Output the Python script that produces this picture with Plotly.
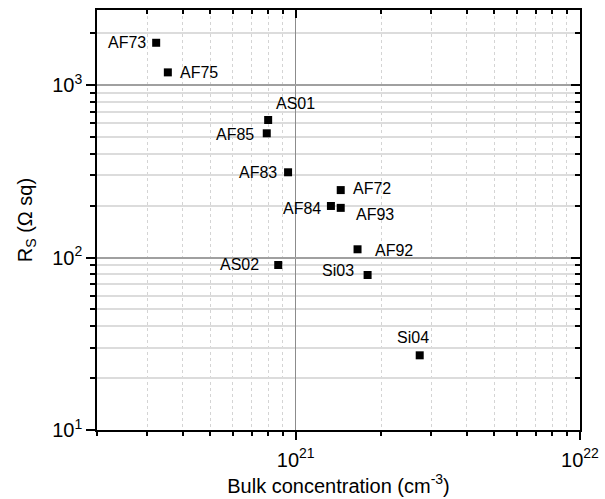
import numpy as np
import plotly.graph_objects as go

# Data
samples = ["AF73", "AF75", "AS01", "AF85", "AF83", "AF72", "AF84", "AF93",
           "AF92", "AS02", "Si03", "Si04"]
bulk_conc = [3.23e20, 3.55e20, 8.0e20, 7.91e20, 9.4e20, 1.44e21, 1.33e21,
             1.44e21, 1.65e21, 8.68e20, 1.79e21, 2.73e21]
sheet_res = [1758, 1184, 627, 525, 312, 246, 199, 194, 111.6, 90.5, 79.2, 27.1]

x_tickvals = [1e21, 1e22]
x_ticktext = ["10<sup>21</sup>", "10<sup>22</sup>"]
y_tickvals = [1e1, 1e2, 1e3]
y_ticktext = ["10<sup>1</sup>", "10<sup>2</sup>", "10<sup>3</sup>"]

# label placement (style): xanchor, xshift, yshift
label_style = {
    "AF73": ("right", -8, 0),
    "AF75": ("left", 10, 0),
    "AS01": ("left", 6, 17),
    "AF85": ("right", -11, -1),
    "AF83": ("right", -9, 0),
    "AF72": ("left", 10, 2),
    "AF84": ("right", -8, -3),
    "AF93": ("left", 13, -7),
    "AF92": ("left", 15, -1),
    "AS02": ("right", -17, 0),
    "Si03": ("right", -12, 4),
    "Si04": ("center", -7, 18),
}

FONT = "Liberation Sans, Arial, sans-serif"

x_minor = [m * 10.0 ** e for e in (20, 21) for m in range(2, 10)]
y_minor = [m * 10.0 ** e for e in (1, 2, 3) for m in range(2, 10)]

xr = [np.log10(2.0e20), 22]
yr = [1, 3.435]

fig = go.Figure()
fig.add_trace(go.Scatter(
    x=bulk_conc, y=sheet_res, mode="markers",
    marker=dict(symbol="square", size=8, color="black"),
    showlegend=False, hoverinfo="text", text=samples,
))
# invisible trace for mirrored top/right axes
fig.add_trace(go.Scatter(
    x=bulk_conc, y=sheet_res, mode="markers", xaxis="x2", yaxis="y2",
    marker=dict(size=8, color="rgba(0,0,0,0)"), showlegend=False,
    hoverinfo="skip",
))

for s, xv, yv in zip(samples, bulk_conc, sheet_res):
    xa, xs, ys = label_style[s]
    fig.add_annotation(
        x=np.log10(xv), y=np.log10(yv), xref="x", yref="y", text=s,
        showarrow=False, xanchor=xa, yanchor="middle", xshift=xs, yshift=ys,
        font=dict(family=FONT, size=16, color="black"),
    )

fig.update_layout(
    width=605, height=499,
    margin=dict(l=97, r=25, t=10, b=69),
    paper_bgcolor="white", plot_bgcolor="white",
    font=dict(family=FONT, color="black"),
    xaxis=dict(
        type="log", range=xr, tickmode="array", tickvals=x_tickvals,
        ticktext=x_ticktext, tickfont=dict(size=20), ticklabelstandoff=3,
        ticks="outside", ticklen=8, tickwidth=1.5, tickcolor="black",
        showline=True, linecolor="black", linewidth=1.5, automargin=False,
        showgrid=True, gridcolor="#8c8c8c", gridwidth=1,
        minor=dict(tickmode="array", tickvals=x_minor, ticks="outside",
                   ticklen=4, tickwidth=1.5, tickcolor="black",
                   showgrid=True, gridcolor="#d4d4d4", gridwidth=1,
                   griddash="dot"),
        title=dict(text="Bulk concentration (cm<sup>-3</sup>)",
                   font=dict(size=20), standoff=9),
        zeroline=False,
    ),
    yaxis=dict(
        type="log", range=yr, tickmode="array", tickvals=y_tickvals,
        ticktext=y_ticktext, tickfont=dict(size=20), automargin=False,
        ticks="outside", ticklen=9, tickwidth=1.5, tickcolor="black",
        showline=True, linecolor="black", linewidth=1.5,
        showgrid=True, gridcolor="#a0a0a0", gridwidth=2,
        minor=dict(tickmode="array", tickvals=y_minor, ticks="outside",
                   ticklen=5, tickwidth=1.5, tickcolor="black",
                   showgrid=True, gridcolor="#dcdcdc", gridwidth=1.5),
        title=dict(text="R<sub>S</sub> (Ω sq)", font=dict(size=20),
                   standoff=14),
        zeroline=False,
    ),
    xaxis2=dict(
        type="log", range=xr, overlaying="x", side="top", anchor="y2",
        tickmode="array", tickvals=x_tickvals, showticklabels=False,
        ticks="inside", ticklen=8, tickwidth=1.5, tickcolor="black",
        showline=True, linecolor="black", linewidth=1.5, showgrid=False,
        minor=dict(tickmode="array", tickvals=x_minor, ticks="inside",
                   ticklen=4, tickwidth=1.5, tickcolor="black",
                   showgrid=False),
        zeroline=False, automargin=False,
    ),
    yaxis2=dict(
        type="log", range=yr, overlaying="y", side="right", anchor="x2",
        tickmode="array", tickvals=y_tickvals, showticklabels=False,
        ticks="inside", ticklen=9, tickwidth=1.5, tickcolor="black",
        showline=True, linecolor="black", linewidth=1.5, showgrid=False,
        minor=dict(tickmode="array", tickvals=y_minor, ticks="inside",
                   ticklen=5, tickwidth=1.5, tickcolor="black",
                   showgrid=False),
        zeroline=False, automargin=False,
    ),
)

fig.write_html("out.html")
